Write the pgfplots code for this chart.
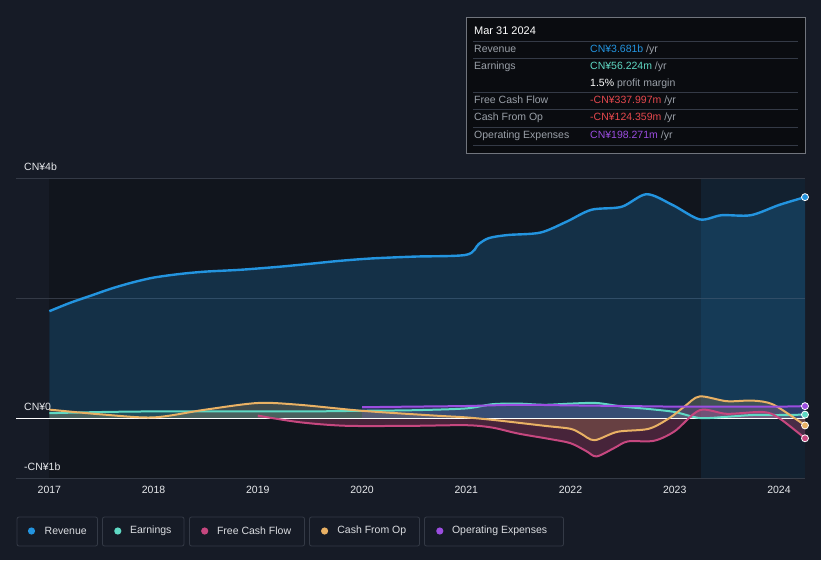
\documentclass[border=0pt]{standalone}
\usepackage{pgfplots}
\pgfplotsset{compat=1.18}
\usepgfplotslibrary{fillbetween}
\usepackage{fontspec}
\setmainfont{Liberation Sans}

\definecolor{bgc}{HTML}{161B26}
\definecolor{plotbg}{HTML}{11151D}
\definecolor{revc}{HTML}{2394DF}
\definecolor{earnc}{HTML}{5FD9C4}
\definecolor{fcfc}{HTML}{C6477F}
\definecolor{cfoc}{HTML}{E9B164}
\definecolor{opexc}{HTML}{9B4DE0}
\definecolor{gridc}{HTML}{343A46}
\definecolor{labc}{HTML}{E6E8EB}
\definecolor{grayt}{HTML}{9AA0A8}
\definecolor{redt}{HTML}{E5484D}
\definecolor{tipbg}{HTML}{0A0C10}

% values in CN¥ billions
\pgfplotstableread{
x y
2017.00 1.78
2017.20 1.92
2017.40 2.04
2017.60 2.16
2017.80 2.26
2018.00 2.34
2018.25 2.40
2018.50 2.44
2018.83 2.47
2019.20 2.52
2019.50 2.57
2019.79 2.62
2020.10 2.66
2020.50 2.69
2021.00 2.72
2021.12 2.90
2021.22 3.00
2021.40 3.05
2021.71 3.09
2021.96 3.27
2022.20 3.47
2022.49 3.52
2022.73 3.73
2022.98 3.55
2023.24 3.31
2023.45 3.38
2023.73 3.38
2024.00 3.55
2024.25 3.681
}\revenue

\pgfplotstableread{
x y
2017.00 0.08
2017.50 0.10
2018.00 0.11
2018.50 0.11
2019.00 0.11
2019.50 0.11
2020.00 0.12
2020.50 0.13
2021.00 0.16
2021.25 0.23
2021.50 0.24
2021.75 0.22
2022.00 0.24
2022.25 0.25
2022.50 0.19
2022.75 0.15
2023.00 0.10
2023.24 0.00
2023.50 0.02
2023.75 0.05
2024.00 0.05
2024.25 0.056
}\earnings

\pgfplotstableread{
x y
2020.00 0.18
2020.50 0.19
2021.00 0.20
2021.50 0.22
2022.00 0.21
2022.50 0.20
2023.00 0.19
2023.50 0.19
2024.00 0.19
2024.25 0.198
}\opex

\pgfplotstableread{
x y
2019.00 0.04
2019.40 -0.07
2019.85 -0.13
2020.50 -0.13
2021.00 -0.12
2021.25 -0.16
2021.50 -0.26
2021.80 -0.35
2022.00 -0.42
2022.15 -0.55
2022.25 -0.64
2022.42 -0.50
2022.55 -0.39
2022.80 -0.38
2023.00 -0.22
2023.24 0.13
2023.50 0.07
2023.85 0.10
2024.00 0.00
2024.25 -0.338
}\fcf

\pgfplotstableread{
x y
2017.00 0.14
2017.50 0.06
2018.00 0.01
2018.50 0.14
2019.00 0.25
2019.40 0.22
2020.00 0.12
2020.70 0.04
2021.00 0.01
2021.30 -0.04
2021.75 -0.13
2022.00 -0.18
2022.10 -0.26
2022.23 -0.37
2022.45 -0.23
2022.75 -0.18
2022.95 0.00
2023.10 0.20
2023.24 0.36
2023.50 0.28
2023.75 0.29
2023.95 0.22
2024.25 -0.124
}\cfo

\begin{document}
\begin{tikzpicture}[x=1pt, y=1pt, font=\fontsize{10.5}{12}\selectfont]
\fill[bgc] (0,0) rectangle (821,560);
% plot background and last-year highlight
\fill[plotbg] (49.4,82) rectangle (805,382);
\fill[revc, opacity=0.10] (700.8,82) rectangle (805,382);

\begin{axis}[
  at={(16pt,82pt)}, anchor=south west,
  scale only axis, width=789pt, height=300pt,
  xmin=2016.68, xmax=2024.25, ymin=-1, ymax=4,
  axis line style={draw=none},
  xtick={2017,2018,2019,2020,2021,2022,2023,2024},
  xticklabels={2017,2018,2019,2020,2021,2022,2023,2024},
  ytick=\empty,
  tick align=outside, major tick length=4pt,
  xtick style={draw=gridc, line width=0.8pt},
  xticklabel style={text=labc, font=\fontsize{10.5}{12}\selectfont, yshift=-1pt},
  clip=false,
  smooth, tension=0.5,
]
\draw[gridc, line width=0.8pt] (axis cs:2016.68,4) -- (axis cs:2024.25,4);
\draw[gridc, line width=0.8pt] (axis cs:2016.68,2) -- (axis cs:2024.25,2);

\path[name path=zeroA] (axis cs:2017,0) -- (axis cs:2024.25,0);
\path[name path=zeroB] (axis cs:2019,0) -- (axis cs:2024.25,0);
\path[name path=zeroC] (axis cs:2020,0) -- (axis cs:2024.25,0);

\addplot[draw=none, name path=rev] table {\revenue};
\addplot[draw=none, name path=earn] table {\earnings};
\addplot[draw=none, name path=fcfp] table {\fcf};
\addplot[draw=none, name path=cfop] table {\cfo};
\addplot[draw=none, name path=opx] table {\opex};

\addplot[revc, opacity=0.22, draw=none] fill between[of=rev and zeroA, on layer=main];
\addplot[earnc, opacity=0.18, draw=none] fill between[of=earn and zeroA, on layer=main];
\addplot[fcfc, opacity=0.30, draw=none] fill between[of=fcfp and zeroB, on layer=main];
\addplot[cfoc, opacity=0.20, draw=none] fill between[of=cfop and zeroA, on layer=main];
\addplot[opexc, opacity=0.18, draw=none] fill between[of=opx and zeroC, on layer=main];

\draw[white, line width=1pt] (axis cs:2016.68,0) -- (axis cs:2024.25,0);
\draw[gridc, line width=0.8pt] (axis cs:2016.68,-1) -- (axis cs:2024.25,-1);

\addplot[revc, line width=2.4pt] table {\revenue};
\addplot[earnc, line width=2pt] table {\earnings};
\addplot[fcfc, line width=2pt] table {\fcf};
\addplot[cfoc, line width=2pt] table {\cfo};
\addplot[opexc, line width=2pt] table {\opex};

\addplot[only marks, mark=*, mark size=3.5pt, mark options={fill=revc, draw=white, line width=0.8pt}] coordinates {(2024.25,3.681)};
\addplot[only marks, mark=*, mark size=3.5pt, mark options={fill=opexc, draw=white, line width=0.8pt}] coordinates {(2024.25,0.198)};
\addplot[only marks, mark=*, mark size=3.5pt, mark options={fill=earnc, draw=white, line width=0.8pt}] coordinates {(2024.25,0.056)};
\addplot[only marks, mark=*, mark size=3.5pt, mark options={fill=cfoc, draw=white, line width=0.8pt}] coordinates {(2024.25,-0.124)};
\addplot[only marks, mark=*, mark size=3.5pt, mark options={fill=fcfc, draw=white, line width=0.8pt}] coordinates {(2024.25,-0.338)};

\node[anchor=base west, text=labc, inner sep=0] at (axis cs:2016.68,4) [xshift=8pt, yshift=8pt] {CN¥4b};
\node[anchor=base west, text=labc, inner sep=0] at (axis cs:2016.68,0) [xshift=8pt, yshift=8pt] {CN¥0};
\node[anchor=base west, text=labc, inner sep=0] at (axis cs:2016.68,-1) [xshift=8pt, yshift=8pt] {-CN¥1b};
\end{axis}

% tooltip
\fill[tipbg] (466.5,407) rectangle (805,543);
\draw[gridc!70, line width=0.6pt] (466.5,407) rectangle (805,543);
\node[anchor=base west, text=white, inner sep=0, font=\fontsize{11}{13}\selectfont] at (474,525) {Mar 31 2024};
\foreach \yy in {519,501.7,467.7,450.7,432.7,415}{
  \draw[gridc, line width=0.6pt] (473,\yy) -- (798,\yy);
}
\begin{scope}[every node/.style={anchor=base west, inner sep=0}]
\node[text=grayt] at (474,507) {Revenue};
\node at (590,507) {\textcolor{revc}{CN¥3.681b} \textcolor{grayt}{/yr}};
\node[text=grayt] at (474,490) {Earnings};
\node at (590,490) {\textcolor{earnc}{CN¥56.224m} \textcolor{grayt}{/yr}};
\node at (590,473) {\textcolor{white}{1.5\%} \textcolor{grayt}{profit margin}};
\node[text=grayt] at (474,456.5) {Free Cash Flow};
\node at (590,456.5) {\textcolor{redt}{-CN¥337.997m} \textcolor{grayt}{/yr}};
\node[text=grayt] at (474,439) {Cash From Op};
\node at (590,439) {\textcolor{redt}{-CN¥124.359m} \textcolor{grayt}{/yr}};
\node[text=grayt] at (474,421.5) {Operating Expenses};
\node at (590,421.5) {\textcolor{opexc}{CN¥198.271m} \textcolor{grayt}{/yr}};
\end{scope}

% legend
\begin{scope}[every node/.style={anchor=west, inner sep=0, text=labc!85!grayt}]
\draw[gridc, line width=0.8pt, rounded corners=2pt] (17,14) rectangle (97.5,43);
\fill[revc] (31.5,29) circle (3.6);
\node at (44.5,29) {Revenue};
\draw[gridc, line width=0.8pt, rounded corners=2pt] (102.5,14) rectangle (184,43);
\fill[earnc] (117.8,29) circle (3.6);
\node at (129.8,29) {Earnings};
\draw[gridc, line width=0.8pt, rounded corners=2pt] (189.5,14) rectangle (304.5,43);
\fill[fcfc] (204.7,29) circle (3.6);
\node at (216.8,29) {Free Cash Flow};
\draw[gridc, line width=0.8pt, rounded corners=2pt] (309.5,14) rectangle (419.5,43);
\fill[cfoc] (324.6,29) circle (3.6);
\node at (337.2,29) {Cash From Op};
\draw[gridc, line width=0.8pt, rounded corners=2pt] (424.5,14) rectangle (563.5,43);
\fill[opexc] (439.8,29) circle (3.6);
\node at (451.8,29) {Operating Expenses};
\end{scope}
\end{tikzpicture}
\end{document}
